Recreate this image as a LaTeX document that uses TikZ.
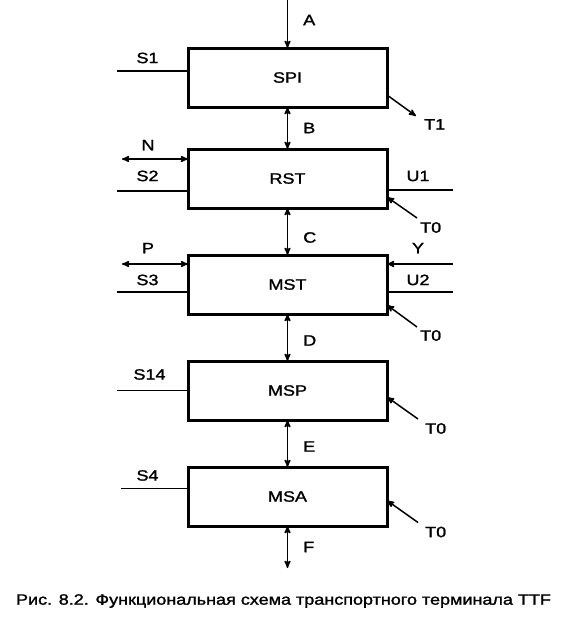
\documentclass[tikz,border=0pt]{standalone}
\usepackage{fontspec}
\setmainfont[FakeStretch=1.2, FakeBold=1.5]{Liberation Sans}
\usetikzlibrary{arrows}
\usetikzlibrary{calc}
\usetikzlibrary{positioning}

\tikzset{
  block/.style={draw, line width=3pt, outer sep=0pt, minimum width=199pt,
                minimum height=59pt, font=\fontsize{15}{17}\selectfont},
  wire/.style={line width=1.5pt},
  lbl/.style={inner sep=0pt, font=\fontsize{15}{17}\selectfont},
}

\begin{document}
\begin{tikzpicture}[>=stealth', x=1pt, y=1pt, node distance=47pt]
      \useasboundingbox (0,0) rectangle (569,-622);

      \node [block] (spi) at (287.5,-77.5) {SPI};
      \node [block, below=42pt of spi] (rst) {RST};
      \node [block, below=of rst] (mst) {MST};
      \node [block, below=of mst] (msp) {MSP};
      \node [block, below=of msp] (msa) {MSA};

      % main chain
      \coordinate [above=48pt of spi.north] (ain);
      \coordinate [below=42pt of msa.south] (fout);
      \draw [wire, ->] (ain) -- node [lbl, right=15pt, yshift=4pt] (la) {A} (spi);
      \draw [wire, <->] (spi) -- node [lbl, right=15pt] (lb) {B} (rst);
      \draw [wire, <->] (rst) -- node [lbl, right=15pt, yshift=-6pt] (lc) {C} (mst);
      \draw [wire, <->] (mst) -- node [lbl, right=15pt, yshift=-3pt] (ld) {D} (msp);
      \draw [wire, <->] (msp) -- node [lbl, right=15pt, yshift=-3pt] (le) {E} (msa);
      \draw [wire, <->] (msa) -- node [lbl, right=15pt] (lf) {F} (fout);

      % left side
      \coordinate (s1) at ([xshift=-71pt, yshift=6.5pt]spi.west);
      \draw [wire] (s1) -- (s1 -| spi.west)
            node [lbl, midway, above=7pt, xshift=-5pt] (ls1) {S1};
      \coordinate (n) at ([xshift=-66pt, yshift=19.5pt]rst.west);
      \draw [wire, <->] (n) -- (n -| rst.west)
            node [lbl, midway, above=8pt, xshift=-7pt] (ln) {N};
      \coordinate (s2) at ([xshift=-71pt, yshift=-12.5pt]rst.west);
      \draw [wire] (s2) -- (s2 -| rst.west)
            node [lbl, midway, above=9pt, xshift=-5pt] (ls2) {S2};
      \coordinate (p) at ([xshift=-66pt, yshift=20.5pt]mst.west);
      \draw [wire, <->] (p) -- (p -| mst.west)
            node [lbl, midway, above=10pt, xshift=-7pt] (lp) {P};
      \coordinate (s3) at ([xshift=-71pt, yshift=-7.5pt]mst.west);
      \draw [wire] (s3) -- (s3 -| mst.west)
            node [lbl, midway, above=6pt, xshift=-5pt] (ls3) {S3};
      \coordinate (s14) at ([xshift=-71pt, yshift=0pt]msp.west);
      \draw [wire] (s14) -- (s14 -| msp.west)
            node [lbl, midway, above=10pt, xshift=-3pt] (ls14) {S14};
      \coordinate (s4) at ([xshift=-67pt, yshift=8pt]msa.west);
      \draw [wire] (s4) -- (s4 -| msa.west)
            node [lbl, midway, above=7pt, xshift=-7pt] (ls4) {S4};

      % right side
      \coordinate (t1) at ([xshift=29pt, yshift=-38.5pt]spi.east);
      \draw [wire, ->] ([yshift=-17.5pt]spi.east) -- (t1);
      \node [lbl, anchor=north west] (lt1) at ([xshift=8pt, yshift=-3pt]t1) {T1};

      \coordinate (u1) at ([xshift=66pt, yshift=-11.5pt]rst.east);
      \draw [wire] (u1 -| rst.east) -- (u1)
            node [lbl, midway, above=8pt, xshift=-2pt] (lu1) {U1};
      \coordinate (t0a) at ([xshift=30pt, yshift=-39.5pt]rst.east);
      \draw [wire, ->] (t0a) -- ([yshift=-18.5pt]rst.east);
      \node [lbl, anchor=north west] (lt0a) at ([xshift=3pt, yshift=-4pt]t0a) {T0};

      \coordinate (y) at ([xshift=66pt, yshift=20.5pt]mst.east);
      \draw [wire, ->] (y) -- (y -| mst.east)
            node [lbl, midway, above=10pt, xshift=-2pt] (ly) {Y};
      \coordinate (u2) at ([xshift=66pt, yshift=-7.5pt]mst.east);
      \draw [wire] (u2 -| mst.east) -- (u2)
            node [lbl, midway, above=6pt, xshift=-2pt] (lu2) {U2};
      \coordinate (t0b) at ([xshift=30pt, yshift=-42.5pt]mst.east);
      \draw [wire, ->] (t0b) -- ([yshift=-20.5pt]mst.east);
      \node [lbl, anchor=north west] (lt0b) at ([xshift=3pt, yshift=-3pt]t0b) {T0};

      \coordinate (t0c) at ([xshift=31pt, yshift=-28.5pt]msp.east);
      \draw [wire, ->] (t0c) -- ([yshift=-6.5pt]msp.east);
      \node [lbl, anchor=north west] (lt0c) at ([xshift=7pt, yshift=-4pt]t0c) {T0};

      \coordinate (t0d) at ([xshift=31pt, yshift=-26pt]msa.east);
      \draw [wire, ->] (t0d) -- ([yshift=-4pt]msa.east);
      \node [lbl, anchor=north west] (lt0d) at ([xshift=7pt, yshift=-4pt]t0d) {T0};

      % caption
      \node [inner sep=0pt, font=\fontsize{15}{17}\selectfont] (caption)
            at (283.5,-601)
            {Рис. 8.2. Функциональная схема транспортного терминала TTF};
\end{tikzpicture}
\end{document}
